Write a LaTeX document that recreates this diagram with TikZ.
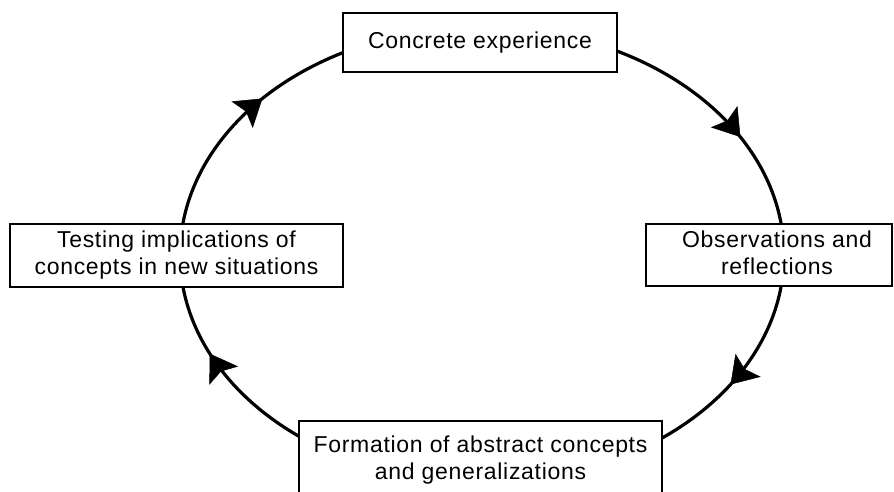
\documentclass[tikz,border=0pt]{standalone}
\usepackage{fontspec}
\setmainfont{Liberation Sans}[LetterSpace=3]
\usetikzlibrary{arrows.meta,decorations.markings}
\begin{document}
\begin{tikzpicture}[x=1pt,y=1pt,
  box/.style={draw=black, line width=1.8pt, fill=white, inner sep=0pt, align=center,
              font=\fontsize{23}{27}\selectfont},
  lbl/.style={inner sep=0pt, align=center, font=\fontsize{23}{27}\selectfont},
  cycleline/.style={line width=3.2pt, black, line cap=round},
  midtip/.style={postaction={decorate}, decoration={markings,
     mark=at position #1 with {\arrow{Stealth[length=26pt,width=34pt,inset=5pt,line width=0.5pt]}}}}
]
\useasboundingbox (0,0) rectangle (894,492);
\fill[white] (0,0) rectangle (894,492);
% ellipse centre
\coordinate (C) at (482,237);
% points where the cycle meets the boxes
\coordinate (a1) at ([shift={(63.4:302pt and 228pt)}]C);
\coordinate (a2) at ([shift={(-8.1:302pt and 228pt)}]C);
\coordinate (a3) at ([shift={(232.7:302pt and 228pt)}]C);
\coordinate (a4) at ([shift={(172.2:302pt and 228pt)}]C);
% connectors
\draw[cycleline, midtip=0.61] (a1) arc[start angle=63.4, end angle=7.8, x radius=302, y radius=228];
\draw[cycleline, midtip=0.56] (a2) arc[start angle=-8.1, end angle=-53.4, x radius=302, y radius=228];
\draw[cycleline, midtip=0.63] (a3) arc[start angle=232.7, end angle=188.1, x radius=302, y radius=228];
\draw[cycleline, midtip=0.62] (a4) arc[start angle=172.2, end angle=117.4, x radius=302, y radius=228];
% boxes
\node[box, minimum width=274, minimum height=59] (conc) at (480,449.5) {Concrete experience};
\node[box, minimum width=333, minimum height=63] (test) at (176.5,236.5) {Testing implications of\\concepts in new situations};
\node[box, minimum width=246, minimum height=62] (obs) at (769,237) {};
\node[lbl] (obstext) at (777,239.4) {Observations and\\reflections};
\node[box, minimum width=363, minimum height=79] (form) at (480.5,31.5) {Formation of abstract concepts\\and generalizations};
\end{tikzpicture}
\end{document}
